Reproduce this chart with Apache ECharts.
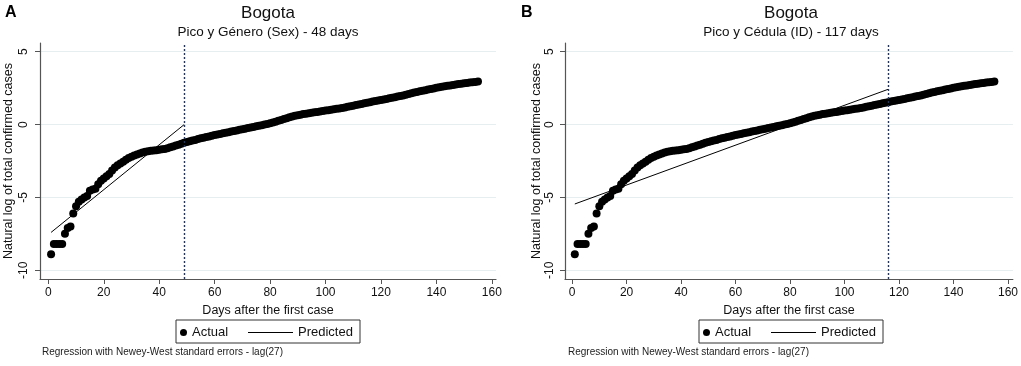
<!DOCTYPE html>
<html>
<head>
<meta charset="utf-8">
<script src="https://cdn.jsdelivr.net/npm/echarts@6/dist/echarts.min.js"></script>
<style>
  html, body { margin: 0; background: #fff; }
  #chart { width: 1021px; height: 366px; }
</style>
</head>
<body>
<div id="chart"></div>
<script>
// natural log of total confirmed cases, day 1 .. day 155
const lnCases = [
  -8.9, -8.2, -8.2, -8.2, -8.2, -7.5, -7.1, -7.0, -6.1, -5.6,
  -5.3, -5.15, -5.0, -4.9, -4.55, -4.45, -4.4, -4.1, -3.85, -3.7,
  -3.55, -3.4, -3.15, -2.95, -2.8, -2.68, -2.55, -2.42, -2.3, -2.2,
  -2.12, -2.05, -1.98, -1.92, -1.87, -1.83, -1.8, -1.78, -1.76, -1.73,
  -1.7, -1.67, -1.62, -1.56, -1.5, -1.44, -1.38, -1.31, -1.25, -1.19,
  -1.14, -1.1, -1.05, -0.99, -0.94, -0.9, -0.86, -0.81, -0.76, -0.72,
  -0.68, -0.64, -0.6, -0.56, -0.52, -0.48, -0.44, -0.4, -0.36, -0.32,
  -0.28, -0.24, -0.2, -0.16, -0.12, -0.08, -0.04, 0.0, 0.04, 0.09,
  0.14, 0.2, 0.26, 0.32, 0.38, 0.44, 0.5, 0.55, 0.6, 0.64,
  0.68, 0.72, 0.75, 0.78, 0.81, 0.84, 0.87, 0.9, 0.93, 0.96,
  0.99, 1.02, 1.05, 1.08, 1.11, 1.14, 1.18, 1.22, 1.26, 1.3,
  1.34, 1.38, 1.42, 1.46, 1.5, 1.54, 1.58, 1.62, 1.65, 1.68,
  1.72, 1.76, 1.8, 1.84, 1.88, 1.92, 1.96, 2.0, 2.05, 2.1,
  2.15, 2.2, 2.24, 2.28, 2.32, 2.36, 2.4, 2.44, 2.48, 2.52,
  2.56, 2.6, 2.63, 2.66, 2.69, 2.72, 2.75, 2.78, 2.81, 2.83,
  2.86, 2.88, 2.9, 2.92, 2.95
];
const firstDay = 1;

// fitted lines (start/end) and policy cut-off per panel
const predDaysA = [1, 49];
const predValsA = [-7.4, 0.0];
const predDaysB = [1, 116];
const predValsB = [-5.45, 2.42];
const cutDays = [49, 116];

const xTicks = [0, 20, 40, 60, 80, 100, 120, 140, 160];
const yTicks = [-10, -5, 0, 5];

const letters = ["A", "B"];
const titles = ["Bogota", "Bogota"];
const subtitles = ["Pico y Género (Sex) - 48 days", "Pico y Cédula (ID) - 117 days"];
const note = "Regression with Newey-West standard errors - lag(27)";

const FONT = "'Liberation Sans', Arial, sans-serif";
const grids = [
  { left: 40, top: 43, width: 456, height: 236 },
  { left: 565, top: 43, width: 452, height: 236 },
];
const xRange = [[-3, 161.5], [-2.6, 161.8]];
const yNameGap = [25, 22];
const yLabelMargin = [10, 9];

const actualPts = lnCases.map((v, i) => [firstDay + i, v]);
const predA = predDaysA.map((d, i) => [d, predValsA[i]]);
const predB = predDaysB.map((d, i) => [d, predValsB[i]]);

const xAxes = grids.map((g, i) => ({
  type: "value",
  gridIndex: i,
  min: xRange[i][0],
  max: xRange[i][1],
  name: "Days after the first case",
  nameLocation: "middle",
  nameGap: 19,
  nameTextStyle: { fontFamily: FONT, fontSize: 12.5, color: "#111" },
  axisLine: { onZero: false, lineStyle: { color: "#555", width: 1.2 } },
  axisTick: { show: true, length: 5, customValues: xTicks, lineStyle: { color: "#555" } },
  axisLabel: { customValues: xTicks, margin: 8, fontFamily: FONT, fontSize: 12, color: "#111" },
  splitLine: { show: false },
}));

const yAxes = grids.map((g, i) => ({
  type: "value",
  gridIndex: i,
  min: -10.6,
  max: 5.6,
  name: "Natural log of total confirmed cases",
  nameLocation: "middle",
  nameGap: yNameGap[i],
  nameTextStyle: { fontFamily: FONT, fontSize: 12.5, color: "#111" },
  axisLine: { show: true, onZero: false, lineStyle: { color: "#555", width: 1.2 } },
  axisTick: { show: true, length: 5, customValues: yTicks, lineStyle: { color: "#555" } },
  axisLabel: { customValues: yTicks, rotate: 90, margin: yLabelMargin[i], fontFamily: FONT, fontSize: 12, color: "#111" },
  splitLine: { show: true, lineStyle: { color: "#e6eef0", width: 1 } },
}));

const cutLine = (day) => ({
  silent: true,
  symbol: "none",
  label: { show: false },
  lineStyle: { color: "#1f3565", type: [2, 2], width: 1.4 },
  data: [{ xAxis: day }],
});

const series = [
  {
    name: "Actual", type: "scatter", xAxisIndex: 0, yAxisIndex: 0,
    data: actualPts, symbolSize: 8, itemStyle: { color: "#000", opacity: 1 },
    markLine: cutLine(cutDays[0]),
  },
  {
    name: "Predicted", type: "line", xAxisIndex: 0, yAxisIndex: 0,
    data: predA, symbol: "none", itemStyle: { color: "#000" }, lineStyle: { color: "#000", width: 1 },
  },
  {
    name: "Actual", type: "scatter", xAxisIndex: 1, yAxisIndex: 1,
    data: actualPts, symbolSize: 8, itemStyle: { color: "#000", opacity: 1 },
    markLine: cutLine(cutDays[1]),
  },
  {
    name: "Predicted", type: "line", xAxisIndex: 1, yAxisIndex: 1,
    data: predB, symbol: "none", itemStyle: { color: "#000" }, lineStyle: { color: "#000", width: 1 },
  },
];

// legend boxes: left x of each box
const legendX = [176, 699];
const legends = [];
const graphics = [];
legendX.forEach((lx, i) => {
  legends.push({
    left: lx + 4, top: 326, padding: 0, selectedMode: false,
    itemWidth: 7, itemHeight: 14,
    data: [{ name: "Actual", icon: "circle", itemStyle: { color: "#000", opacity: 1 } }],
    textStyle: { fontFamily: FONT, fontSize: 13, color: "#111" },
  });
  legends.push({
    left: lx + 72, top: 326, padding: 0, selectedMode: false,
    itemWidth: 45, itemHeight: 14,
    data: [{ name: "Predicted", icon: "path://M0,0 L45,0 L45,1 L0,1 Z", itemStyle: { color: "#000" } }],
    textStyle: { fontFamily: FONT, fontSize: 13, color: "#111" },
  });
  graphics.push({
    type: "rect", shape: { x: lx, y: 320, width: 184, height: 23 },
    style: { fill: null, stroke: "#333", lineWidth: 1 }, silent: true,
  });
});

const centers = grids.map((g) => g.left + g.width / 2);
centers.forEach((cx, i) => {
  graphics.push({
    type: "text", x: cx, y: 13,
    style: { text: titles[i], font: `17px ${FONT}`, fill: "#111", textAlign: "center", textVerticalAlign: "middle" },
  });
  graphics.push({
    type: "text", x: cx, y: 32,
    style: { text: subtitles[i], font: `13.5px ${FONT}`, fill: "#111", textAlign: "center", textVerticalAlign: "middle" },
  });
  graphics.push({
    type: "text", x: i === 0 ? 5 : 521, y: 13,
    style: { text: letters[i], font: `bold 16px ${FONT}`, fill: "#000", textAlign: "left", textVerticalAlign: "middle" },
  });
  graphics.push({
    type: "text", x: i === 0 ? 42 : 568, y: 352,
    style: { text: note, font: `10px ${FONT}`, fill: "#222", textAlign: "left", textVerticalAlign: "middle" },
  });
});

const chart = echarts.init(document.getElementById("chart"));
chart.setOption({
  animation: false,
  backgroundColor: "#fff",
  grid: grids,
  xAxis: xAxes,
  yAxis: yAxes,
  legend: legends,
  graphic: graphics,
  series: series,
});
</script>
</body>
</html>
